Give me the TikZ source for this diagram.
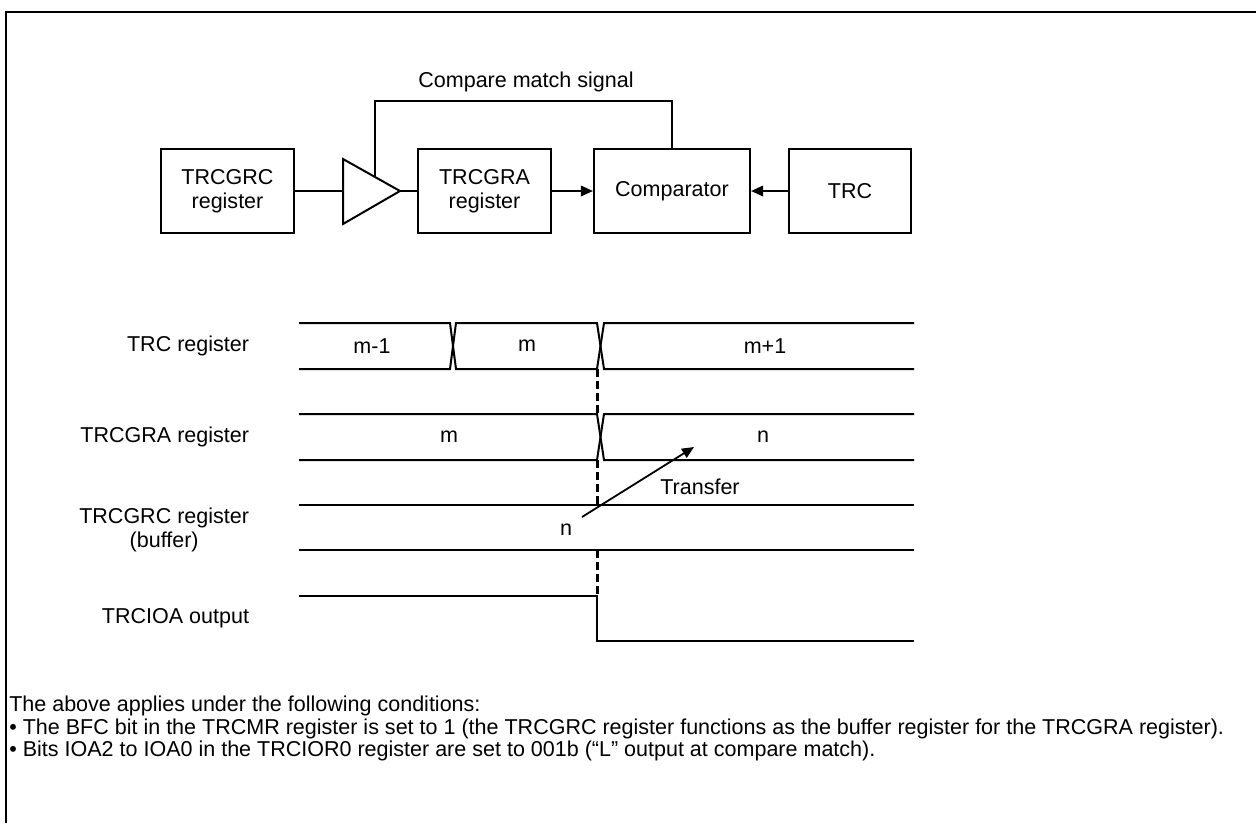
\documentclass[tikz,border=0pt]{standalone}
\usepackage{fontspec}
\setmainfont{Liberation Sans}
\usetikzlibrary{arrows.meta}

\tikzset{
  regbox/.style={draw, line width=0.05cm, align=center, minimum height=2.1cm, inner sep=0pt},
  wave/.style={line width=0.05cm},
  marker/.style={line width=0.075cm, dash pattern=on 0.2cm off 0.1cm},
  sig/.style={line width=0.05cm, -{Triangle[length=0.3cm,width=0.26cm]}},
  rowlabel/.style={anchor=east, align=center},
  note/.style={anchor=west, inner sep=0pt},
}

\begin{document}
\begin{tikzpicture}[x=0.025cm, y=-0.025cm, font=\fontsize{15.3}{17}\selectfont]
    \useasboundingbox (0,0) rectangle (1256,823);

    % Frame, top and left edges only
    \draw[line width=0.065cm] (1256,12) -- (6,12) -- (6,823);

    % Block diagram
    \node[regbox, minimum width=3.325cm] (grc) at (227.5,191) {TRCGRC\\register};
    \node[regbox, minimum width=3.325cm] (gra) at (484.5,191) {TRCGRA\\register};
    \node[regbox, minimum width=3.9cm] (cmp) at (672,191) {Comparator};
    \node[regbox, minimum width=3.05cm] (trc) at (850,191) {TRC};

    % Buffer triangle
    \coordinate (ampin) at (343,191);
    \coordinate (ampout) at (400,191);
    \draw[wave] (343,159) -- (ampout) -- (343,224) -- cycle;
    \draw[wave] (grc.east) -- (ampin);
    \draw[wave] (ampout) -- (gra.west);
    \draw[sig] (gra.east) -- (cmp.west);
    \draw[sig] (trc.west) -- (cmp.east);

    % Compare match feedback
    \coordinate (fb) at (375,177);
    \coordinate (fbtop) at (375,101);
    \draw[wave] (fb) -- (fbtop) -| (cmp.north);
    \node (cms) at (526,82) {Compare match signal};

    % Row labels
    \node[rowlabel] (ltrc) at (254,346) {TRC register};
    \node[rowlabel] (lgra) at (254,437) {TRCGRA register};
    \node[rowlabel] (lgrc) at (254,530) {TRCGRC register\\(buffer)};
    \node[rowlabel] (lioa) at (254,618) {TRCIOA output};

    % TRC register
    \draw[wave] (299,323) -- (450,323) -- (456,369) -- (597,369) -- (604,323) -- (914,323);
    \draw[wave] (299,369) -- (450,369) -- (456,323) -- (597,323) -- (604,369) -- (914,369);
    \node (vm1) at (372,346) {m-1};
    \node (vm) at (527,346) {m};
    \node (vp1) at (765,346) {m+1};

    % TRCGRA register
    \draw[wave] (299,414) -- (597,414) -- (604,460) -- (914,460);
    \draw[wave] (299,460) -- (597,460) -- (604,414) -- (914,414);
    \node (gm) at (449,437) {m};
    \node (gn) at (763,437) {n};

    % TRCGRC register (buffer)
    \foreach \y in {505,550}
        \draw[wave] (299,\y) -- (914,\y);
    \node (cn) at (566,530) {n};

    % TRCIOA output
    \draw[wave] (299,596) -- (597,596) -- (597,641) -- (914,641);

    % Compare match instant
    \foreach \a/\b in {369/414, 460/505, 550/596}
        \draw[marker] (597,\a) -- (597,\b);

    % Transfer
    \coordinate (xfrom) at (582,517);
    \coordinate (xto) at (694,447);
    \draw[sig, line width=0.045cm] (xfrom) -- (xto);
    \node (xfer) at (700,487) {Transfer};

    % Notes
    \node[note] (note0) at (9,706) {The above applies under the following conditions:};
    \node[note] (note1) at (9,729) {• The BFC bit in the TRCMR register is set to 1 (the TRCGRC register functions as the buffer register for the TRCGRA register).};
    \node[note] (note2) at (9,751) {• Bits IOA2 to IOA0 in the TRCIOR0 register are set to 001b (“L” output at compare match).};
\end{tikzpicture}
\end{document}
